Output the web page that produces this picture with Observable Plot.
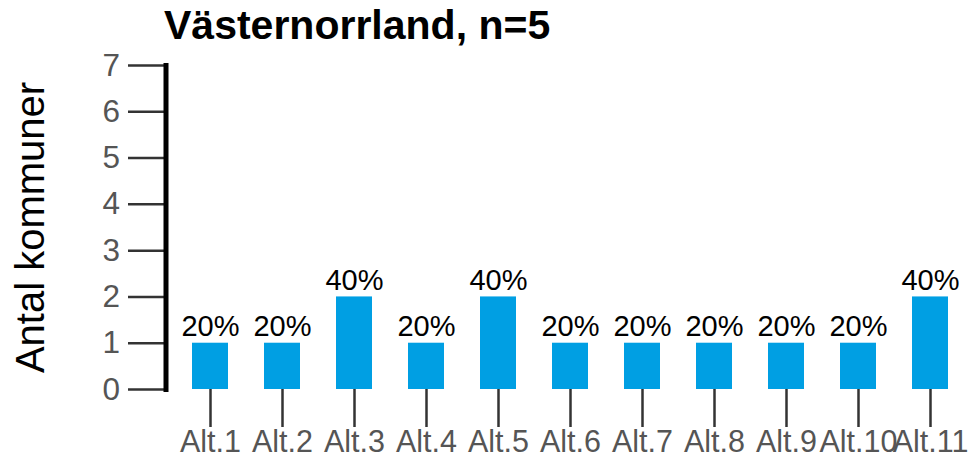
<!DOCTYPE html>
<html>
<head>
<meta charset="utf-8">
<script src="https://cdn.jsdelivr.net/npm/d3@7"></script>
<script src="https://cdn.jsdelivr.net/npm/@observablehq/plot@0.6"></script>
<style>
  html, body { margin: 0; padding: 0; background: #fff; }
  body { width: 973px; height: 459px; overflow: hidden; font-family: "Liberation Sans", Arial, sans-serif; }
  #title { height: 51px; padding-top: 5px; padding-left: 164px; font-size: 41px; line-height: 41px; font-weight: bold; color: #000; white-space: nowrap; }
</style>
</head>
<body>
<div id="title"></div>
<div id="chart"></div>
<script>
const titleText = "Västernorrland, n=5";
const yLabel = "Antal kommuner";
const categories = ["Alt.1","Alt.2","Alt.3","Alt.4","Alt.5","Alt.6","Alt.7","Alt.8","Alt.9","Alt.10","Alt.11"];
const counts = [1,1,2,1,2,1,1,1,1,1,2];
const pctLabels = ["20%","20%","40%","20%","40%","20%","20%","20%","20%","20%","40%"];
const yTicks = [0,1,2,3,4,5,6,7];

document.getElementById("title").textContent = titleText;

const data = categories.map((c, i) => ({cat: c, count: counts[i], pct: pctLabels[i]}));

const plot = Plot.plot({
  width: 973,
  height: 403,
  marginLeft: 165.5,
  marginRight: 4,
  marginTop: 9,
  marginBottom: 70,
  style: {fontFamily: "'Liberation Sans', Arial, sans-serif", background: "#fff", overflow: "visible"},
  x: {domain: categories, paddingInner: 0.5, paddingOuter: 0.25, insetLeft: 6, label: null},
  y: {domain: [0, 7], label: null},
  marks: [
    Plot.barY(data, {x: "cat", y: "count", fill: "#009FE3"}),
    Plot.text(data, {x: "cat", y: "count", text: "pct", dy: -7, lineAnchor: "bottom", fontSize: 29, fill: "#000"}),
    Plot.axisY({ticks: yTicks, tickFormat: d => String(d), tickSize: 37.5, tickPadding: 8.5, fontSize: 31.5, color: "#555", stroke: "#333", strokeWidth: 2.5, label: null}),
    Plot.axisX({tickSize: 38, tickPadding: 3, fontSize: 30.5, color: "#555", stroke: "#333", strokeWidth: 2.5, label: null}),
    Plot.frame({anchor: "left", stroke: "#000", strokeWidth: 5}),
    Plot.text([yLabel], {frameAnchor: "left", text: d => d, rotate: -90, dx: -122.5, lineAnchor: "bottom", textAnchor: "middle", fontSize: 40, fill: "#000"})
  ]
});
document.getElementById("chart").appendChild(plot);
</script>
</body>
</html>
